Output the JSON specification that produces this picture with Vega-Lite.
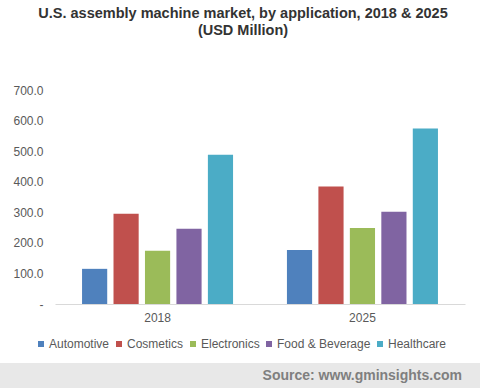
{
  "$schema": "https://vega.github.io/schema/vega-lite/v6.json",
  "padding": {"left": 0, "right": 0, "top": 6, "bottom": 0},
  "background": "white",
  "title": {
    "text": ["U.S. assembly machine market, by application, 2018 & 2025", "(USD Million)"],
    "font": "Liberation Sans",
    "fontSize": 14.5,
    "fontWeight": "bold",
    "color": "#333333",
    "lineHeight": 16.5,
    "anchor": "middle",
    "dx": 3,
    "offset": 46
  },
  "spacing": 40,
  "config": {
    "font": "Liberation Sans",
    "view": {"stroke": null}
  },
  "vconcat": [
    {
      "width": 480,
      "height": 214,
      "data": {
        "values": [
          {"year": "2018", "application": "Automotive", "value": 115},
          {"year": "2018", "application": "Cosmetics", "value": 295},
          {"year": "2018", "application": "Electronics", "value": 174},
          {"year": "2018", "application": "Food & Beverage", "value": 246},
          {"year": "2018", "application": "Healthcare", "value": 488},
          {"year": "2025", "application": "Automotive", "value": 177},
          {"year": "2025", "application": "Cosmetics", "value": 384},
          {"year": "2025", "application": "Electronics", "value": 249},
          {"year": "2025", "application": "Food & Beverage", "value": 302},
          {"year": "2025", "application": "Healthcare", "value": 574}
        ]
      },
      "mark": {"type": "bar"},
      "encoding": {
        "x": {
          "field": "year",
          "type": "nominal",
          "scale": {"paddingInner": 0.263, "paddingOuter": 0.132, "range": [55, 465]},
          "axis": {
            "title": null,
            "labelAngle": 0,
            "labelFontSize": 12,
            "labelColor": "#595959",
            "labelPadding": 8,
            "ticks": false,
            "domainColor": "#d9d9d9",
            "domainWidth": 1
          }
        },
        "xOffset": {
          "field": "application",
          "type": "nominal",
          "scale": {"paddingInner": 0.2, "paddingOuter": 0}
        },
        "y": {
          "field": "value",
          "type": "quantitative",
          "scale": {"domain": [0, 700], "nice": false},
          "axis": {
            "title": null,
            "values": [0, 100, 200, 300, 400, 500, 600, 700],
            "labelExpr": "datum.value == 0 ? '-\u00a0\u00a0' : format(datum.value, '.1f')",
            "grid": false,
            "domain": false,
            "ticks": false,
            "offset": -55,
            "labelFontSize": 12,
            "labelColor": "#595959",
            "labelPadding": 12
          }
        },
        "color": {
          "field": "application",
          "type": "nominal",
          "scale": {
            "domain": ["Automotive", "Cosmetics", "Electronics", "Food & Beverage", "Healthcare"],
            "range": ["#4f81bd", "#c0504d", "#9bbb59", "#8064a2", "#4bacc6"]
          },
          "legend": {
            "title": null,
            "orient": "none",
            "legendX": 35,
            "legendY": 248,
            "direction": "horizontal",
            "symbolType": "square",
            "symbolSize": 36,
            "symbolStrokeWidth": 0,
            "labelOffset": 2,
            "columnPadding": 3,
            "labelFontSize": 12,
            "labelColor": "#595959"
          }
        }
      }
    },
    {
      "width": 480,
      "height": 26,
      "view": {"fill": "#e8e8e8", "stroke": null},
      "data": {"values": [{"source": "Source: www.gminsights.com"}]},
      "mark": {
        "type": "text",
        "align": "right",
        "baseline": "middle",
        "font": "Liberation Sans",
        "fontSize": 14,
        "fontWeight": "bold",
        "color": "#7f7f7f",
        "dx": -18
      },
      "encoding": {
        "text": {"field": "source", "type": "nominal"},
        "x": {"value": "width"}
      }
    }
  ]
}
